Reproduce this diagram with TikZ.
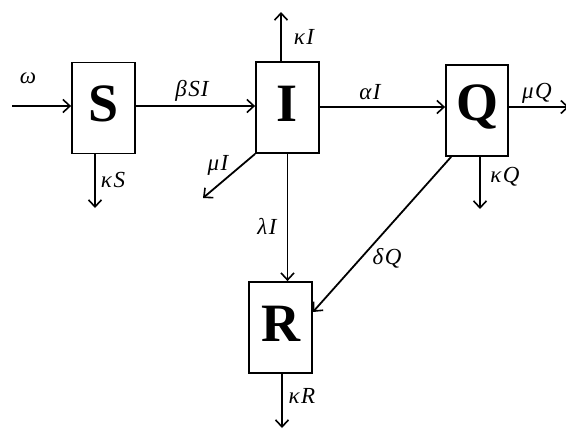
\documentclass[tikz,border=0pt]{standalone}
\usepackage{fontspec}
\setmainfont{Liberation Serif}
\usetikzlibrary{arrows.meta,calc}
\begin{document}
\begin{tikzpicture}[x=1pt,y=-1pt,
  flow/.style={line width=1.8pt,-{Straight Barb[length=7pt,width=13pt,line width=1.6pt]}},
  compart/.style={draw,line width=1.8pt,minimum width=63pt,minimum height=91pt,inner sep=0pt},
  letter/.style={font=\bfseries\fontsize{54}{60}\selectfont,inner sep=0pt},
  lab/.style={font=\itshape\fontsize{23}{26}\selectfont,inner sep=0pt}]
\useasboundingbox (0,0) rectangle (566,431);
\node[compart] (S) at (103.5,108) {};
\node[compart] (I) at (287.5,107.5) {};
\node[compart,minimum width=62pt] (Q) at (477,110.5) {};
\node[compart] (R) at (280.5,327.5) {};
\node[letter] (Sl) at ([yshift=4pt]S.center) {S};
\node[letter] (Il) at ([yshift=4pt]I.center) {I};
\node[letter] (Ql) at ([yshift=4pt]Q.center) {Q};
\node[letter] (Rl) at ([yshift=4pt]R.center) {R};
% free ends
\coordinate (w0) at (12,106);
\coordinate (kI) at (281,12);
\coordinate (kS) at (95,208);
\coordinate (mI) at (203,198);
\coordinate (kQ) at (480,209);
\coordinate (mQ) at (569,107);
\coordinate (kR) at (282,428);
% connectors
\draw[flow] (w0) -- (w0 -| S.west);
\draw[flow] (S.east |- w0) -- (w0 -| I.west);
\draw[flow] (I.east |- 0,107) -- (Q.west |- 0,107);
\draw[flow] (kI |- I.north) -- (kI);
\draw[flow] (kS |- S.south) -- (kS);
\draw[flow] (I.south west) -- (mI);
\draw[flow] (I.south) -- (I.south |- R.north);
\draw[flow] ($(Q.south west)+(6,0)$) -- (R.east |- 0,312);
\draw[flow] (kQ |- Q.south) -- (kQ);
\draw[flow] (Q.east |- mQ) -- (mQ);
\draw[flow] (kR |- R.south) -- (kR);
% labels
\node[lab] (lw) at (28,78) {ω};
\node[lab] (lb) at (192,91) {β\kern1.5pt S\kern1pt I};
\node[lab] (la) at (370,92) {α\kern1.5pt I};
\node[lab] (lmq) at (537,93) {μ\kern1.5pt Q};
\node[lab] (lki) at (304,37) {κ\kern1.5pt I};
\node[lab] (lks) at (113,180) {κ\kern1.5pt S};
\node[lab] (lmi) at (218,165) {μ\kern1.5pt I};
\node[lab] (lli) at (267,226) {λ\kern1.5pt I};
\node[lab] (lkq) at (505,177) {κ\kern1.5pt Q};
\node[lab] (ldq) at (387,258) {δ\kern1.5pt Q};
\node[lab] (lkr) at (302,396) {κ\kern1.5pt R};
\end{tikzpicture}
\end{document}
